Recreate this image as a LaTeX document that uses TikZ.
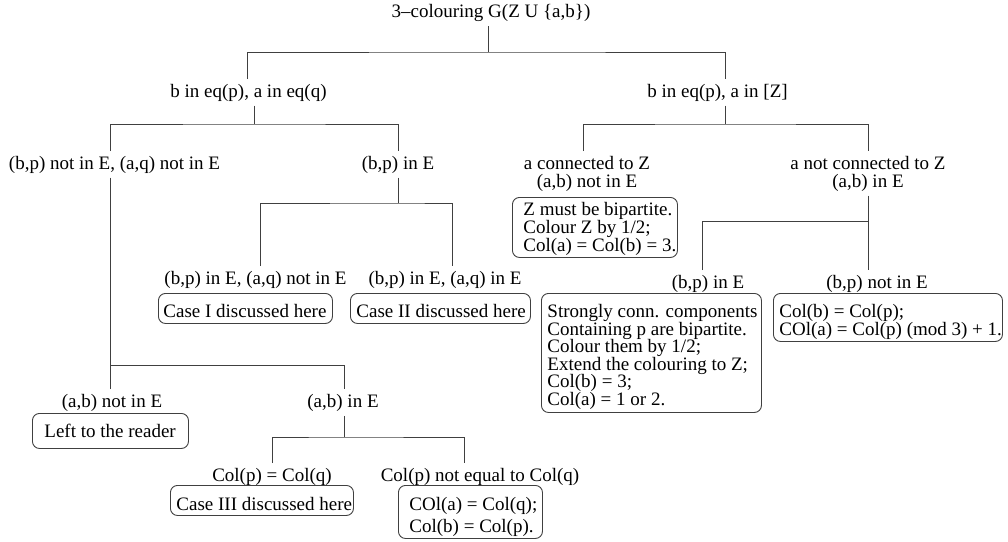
\documentclass[tikz,border=0pt]{standalone}
\usepackage{fontspec}
\setmainfont{Liberation Serif}
\tikzset{
  lbl/.style={inner sep=4.5pt, anchor=base, align=center, font=\fontsize{19}{18}\selectfont},
  bx/.style={draw=black!75, line width=0.9pt, rounded corners=7pt, inner sep=0pt, anchor=north west, font=\fontsize{19}{18}\selectfont},
  conn/.style={draw=black!75, line width=0.9pt},
}
% #1 left pad, #2 parbox width, #3 top strut, #4 bottom strut, #5 lines
\newcommand\bxc[5]{\hspace*{#1}\parbox{#2}{\raggedright\rule{0pt}{#3}#5\rule[-#4]{0pt}{#4}}}
\begin{document}
\begin{tikzpicture}[x=1pt,y=-1pt]
\useasboundingbox (0,0) rectangle (1008,541);
% labels
\node[lbl] (root) at (491,17.5) {3–colouring G(Z U \{a,b\})};
\node[lbl] (n1) at (248.5,97) {b in eq(p), a in eq(q)};
\node[lbl] (n2) at (717.5,97) {b in eq(p), a in [Z]};
\node[lbl] (n11) at (114.5,169) {(b,p) not in E, (a,q) not in E};
\node[lbl] (n12) at (398,169) {(b,p) in E};
\node[lbl] (n21) at (587,187) {a connected to Z\\(a,b) not in E};
\node[lbl] (n22) at (868,187) {a not connected to Z\\(a,b) in E};
\node[lbl] (n121) at (255.5,284) {(b,p) in E, (a,q) not in E};
\node[lbl] (n122) at (445,284) {(b,p) in E, (a,q) in E};
\node[lbl] (n221) at (708,288) {(b,p) in E};
\node[lbl] (n222) at (877,288) {(b,p) not in E};
\node[lbl] (n111) at (112,407) {(a,b) not in E};
\node[lbl] (n112) at (343,407) {(a,b) in E};
\node[lbl] (n1121) at (272,481) {Col(p) = Col(q)};
\node[lbl] (n1122) at (480,481) {Col(p) not equal to Col(q)};
% boxes
\node[bx] (bZ) at (512,197) {\bxc{11pt}{154pt}{18pt}{6pt}{\mbox{Z must be bipartite.}\\\mbox{Colour Z by 1/2;}\\\mbox{Col(a) = Col(b) = 3.}}};
\node[bx] (bI) at (158,293) {\bxc{5pt}{169pt}{24pt}{6pt}{\mbox{Case I discussed here}}};
\node[bx] (bII) at (350,293) {\bxc{6pt}{174pt}{24pt}{6pt}{\mbox{Case II discussed here}}};
\node[bx] (bS) at (541,293) {\bxc{6pt}{214pt}{24pt}{7pt}{\fontsize{19}{17.6}\selectfont\mbox{Strongly conn. components}\\\mbox{Containing p are bipartite.}\\\mbox{Colour them by 1/2;}\\\mbox{Extend the colouring to Z;}\\\mbox{Col(b) = 3;}\\\mbox{Col(a) = 1 or 2.}}};
\node[bx] (bC) at (773,293) {\bxc{6pt}{223pt}{24pt}{6pt}{\mbox{Col(b) = Col(p);}\\\mbox{COl(a) = Col(p) (mod 3) + 1.}}};
\node[bx] (bL) at (32,413) {\bxc{12pt}{144pt}{24pt}{11pt}{\mbox{Left to the reader}}};
\node[bx] (bIII) at (170,485) {\bxc{6pt}{177pt}{25pt}{5pt}{\mbox{Case III discussed here}}};
\node[bx] (bCol) at (398,485) {\bxc{11pt}{133pt}{25pt}{6pt}{\fontsize{19}{22}\selectfont\mbox{COl(a) = Col(q);}\\\mbox{Col(b) = Col(p).}}};
% junctions
\coordinate (jR) at (488,52);
\coordinate (jA) at (254,124);
\coordinate (jB) at (725,124);
\coordinate (jC) at (398,203);
\coordinate (jD) at (868,221);
\coordinate (jE) at (110,365);
\coordinate (jF) at (344,437);
% connectors
\draw[conn] (root.south -| jR) -- (jR);
\draw[conn] ([xshift=-1.5pt]n1.north) |- (jR) -| ([xshift=7.5pt]n2.north);
\draw[conn] (n1.south -| jA) -- (jA);
\draw[conn] ([xshift=-4.5pt]n11.north) |- (jA) -| (n12.north);
\draw[conn] (n2.south -| jB) -- (jB);
\draw[conn] ([xshift=-4pt]n21.north) |- (jB) -| (n22.north);
\draw[conn] (n12.south -| jC) -- (jC);
\draw[conn] ([xshift=4.5pt]n121.north) |- (jC) -| ([xshift=7pt]n122.north);
\draw[conn] (n22.south -| jD) -- (jD);
\draw[conn] ([xshift=-6pt]n221.north) |- (jD) -| ([xshift=-9pt]n222.north);
\draw[conn] (n11.south -| jE) -- (jE);
\draw[conn] ([xshift=-2pt]n111.north) |- (jE) -| ([xshift=1pt]n112.north);
\draw[conn] (n112.south -| jF) -- (jF);
\draw[conn] (n1121.north) |- (jF) -| ([xshift=-16pt]n1122.north);
\end{tikzpicture}
\end{document}
